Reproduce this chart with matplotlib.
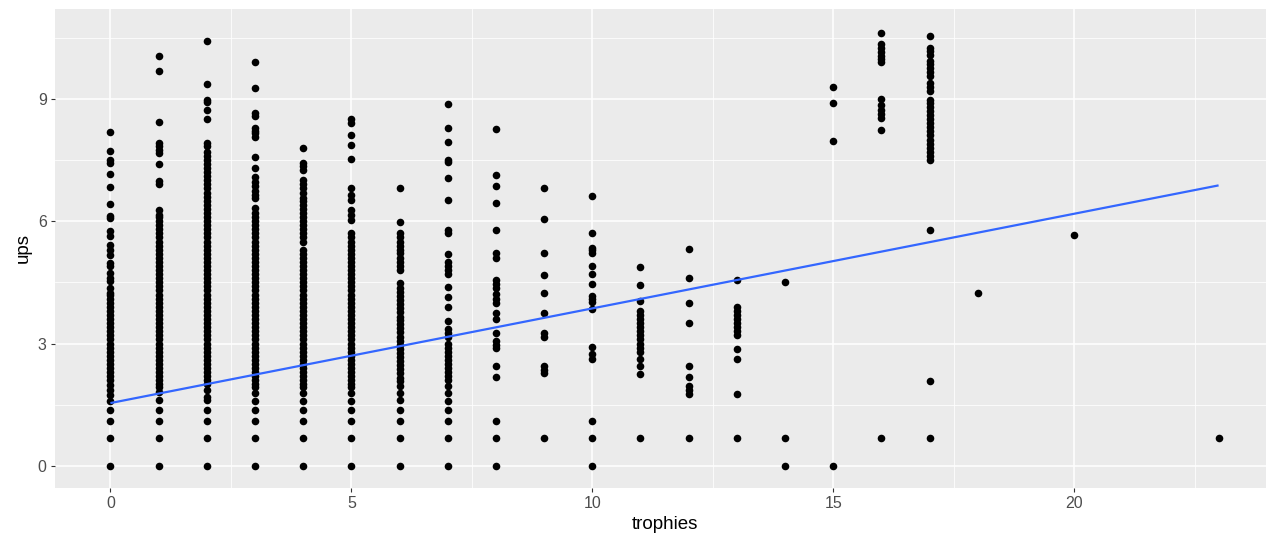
import matplotlib
matplotlib.use("Agg")
import matplotlib.pyplot as plt

# ---- data ----
trophies = [0, 1, 2, 3, 4, 5, 6, 7, 8, 9, 10, 11, 12, 13, 14, 15, 16, 17, 18, 20, 23]

ups_t0 = [0, 0.69, 1.10, 1.37, 1.58, 1.74, 1.86, 1.99, 2.10, 2.20, 2.30, 2.40, 2.50, 2.60,
          2.70, 2.80, 2.90, 3.00, 3.10, 3.20, 3.30, 3.40, 3.50, 3.60, 3.70, 3.80, 3.90, 4.00,
          4.10, 4.20, 4.24, 4.36, 4.52, 4.60, 4.73, 4.89, 4.97, 5.17, 5.30, 5.42, 5.64, 5.77,
          6.08, 6.13, 6.42, 6.83, 7.16, 7.43, 7.50, 7.73, 8.19]
ups_t1 = [0, 0.69, 1.10, 1.37, 1.62, 1.82, 1.94, 2.00, 2.10, 2.20, 2.30, 2.40, 2.50, 2.60,
          2.70, 2.80, 2.90, 3.00, 3.10, 3.20, 3.30, 3.40, 3.50, 3.60, 3.70, 3.80, 3.90, 4.00,
          4.10, 4.20, 4.30, 4.40, 4.50, 4.60, 4.70, 4.80, 4.90, 5.00, 5.10, 5.20, 5.30, 5.40,
          5.50, 5.60, 5.70, 5.80, 5.90, 6.00, 6.10, 6.15, 6.27, 6.91, 6.98, 7.39, 7.66, 7.75,
          7.84, 7.92, 8.44, 9.67, 10.05]
ups_t2 = [0, 0.69, 1.10, 1.37, 1.62, 1.70, 1.86, 2.00, 2.10, 2.20, 2.30, 2.40, 2.50, 2.60,
          2.70, 2.80, 2.90, 3.00, 3.10, 3.20, 3.30, 3.40, 3.50, 3.60, 3.70, 3.80, 3.90, 4.00,
          4.10, 4.20, 4.30, 4.40, 4.50, 4.60, 4.70, 4.80, 4.90, 5.00, 5.10, 5.20, 5.30, 5.40,
          5.50, 5.60, 5.70, 5.80, 5.90, 6.00, 6.10, 6.20, 6.30, 6.40, 6.50, 6.60, 6.70, 6.80,
          6.90, 7.00, 7.10, 7.20, 7.30, 7.40, 7.50, 7.60, 7.70, 7.83, 7.92, 8.50, 8.73, 8.92,
          8.97, 9.36, 10.42]
ups_t3 = [0, 0.69, 1.10, 1.37, 1.58, 1.78, 1.94, 2.00, 2.10, 2.20, 2.30, 2.40, 2.50, 2.60,
          2.70, 2.80, 2.90, 3.00, 3.10, 3.20, 3.30, 3.40, 3.50, 3.60, 3.70, 3.80, 3.90, 4.00,
          4.10, 4.20, 4.30, 4.40, 4.50, 4.60, 4.70, 4.80, 4.90, 5.00, 5.10, 5.20, 5.30, 5.40,
          5.50, 5.60, 5.70, 5.80, 5.90, 6.00, 6.10, 6.20, 6.32, 6.56, 6.65, 6.75, 6.85, 6.95,
          7.09, 7.30, 7.56, 8.07, 8.15, 8.22, 8.28, 8.58, 8.66, 9.26, 9.91]
ups_t4 = [0, 0.69, 1.10, 1.37, 1.58, 1.78, 1.94, 2.00, 2.10, 2.20, 2.30, 2.40, 2.50, 2.60,
          2.70, 2.80, 2.90, 3.00, 3.10, 3.20, 3.30, 3.40, 3.50, 3.60, 3.70, 3.80, 3.90, 4.00,
          4.10, 4.20, 4.30, 4.40, 4.50, 4.60, 4.70, 4.80, 4.90, 5.00, 5.10, 5.20, 5.29, 5.50,
          5.60, 5.70, 5.80, 5.90, 6.00, 6.10, 6.20, 6.30, 6.40, 6.50, 6.56, 6.68, 6.80, 6.90,
          7.01, 7.25, 7.35, 7.43, 7.80]
ups_t5 = [0, 0.69, 1.10, 1.37, 1.58, 1.78, 1.94, 2.00, 2.10, 2.20, 2.30, 2.40, 2.50, 2.60,
          2.70, 2.80, 2.90, 3.00, 3.10, 3.20, 3.30, 3.40, 3.50, 3.60, 3.70, 3.80, 3.90, 4.00,
          4.10, 4.20, 4.30, 4.40, 4.50, 4.60, 4.70, 4.80, 4.90, 5.00, 5.10, 5.20, 5.29, 5.38,
          5.50, 5.60, 5.70, 6.03, 6.15, 6.27, 6.52, 6.65, 6.81, 7.52, 7.87, 8.11, 8.40, 8.50]
ups_t6 = [0, 0.69, 1.10, 1.37, 1.62, 1.79, 1.95, 2.08, 2.16, 2.27, 2.37, 2.47, 2.57, 2.67,
          2.77, 2.87, 2.97, 3.07, 3.17, 3.27, 3.37, 3.47, 3.57, 3.66, 3.76, 3.86, 3.96, 4.06,
          4.16, 4.26, 4.36, 4.48, 4.80, 4.90, 5.00, 5.10, 5.21, 5.30, 5.40, 5.50, 5.60, 5.70,
          5.99, 6.81]
ups_t7 = [0, 0.69, 1.10, 1.36, 1.60, 1.79, 1.95, 2.10, 2.20, 2.30, 2.40, 2.50, 2.60, 2.70,
          2.80, 2.90, 3.00, 3.15, 3.25, 3.36, 3.56, 3.89, 4.13, 4.38, 4.70, 4.80, 4.90, 4.99,
          5.19, 5.72, 5.78, 6.51, 7.05, 7.45, 7.50, 7.94, 8.28, 8.86]
ups_t8 = [0, 0.69, 1.10, 2.18, 2.46, 2.90, 2.97, 3.05, 3.26, 3.59, 3.75, 4.00, 4.10, 4.22,
          4.35, 4.47, 4.56, 5.09, 5.23, 5.79, 6.44, 6.85, 7.12, 8.25]
ups_t9 = [0.69, 2.27, 2.35, 2.46, 3.17, 3.26, 3.75, 4.25, 4.67, 5.22, 6.06, 6.81]
ups_t10 = [0, 0.69, 1.10, 2.62, 2.75, 2.91, 3.85, 4.01, 4.10, 4.17, 4.47, 4.70, 4.91, 5.23,
           5.30, 5.35, 5.72, 6.61]
ups_t11 = [0.69, 2.26, 2.45, 2.62, 2.80, 2.90, 3.00, 3.10, 3.20, 3.30, 3.40, 3.50, 3.60,
           3.70, 3.80, 4.05, 4.43, 4.88]
ups_t12 = [0.69, 1.77, 1.87, 1.97, 2.18, 2.46, 3.51, 3.99, 4.60, 5.31]
ups_t13 = [0.69, 1.77, 2.62, 2.87, 3.20, 3.30, 3.40, 3.50, 3.60, 3.70, 3.80, 3.89, 4.56]
ups_t14 = [0, 0.69, 4.50]
ups_t15 = [0, 7.97, 8.89, 9.30]
ups_t16 = [0.69, 8.24, 8.53, 8.63, 8.73, 8.85, 9.00, 9.90, 9.98, 10.06, 10.15, 10.25, 10.34, 10.60]
ups_t17 = [0.69, 2.07, 5.79, 7.51, 7.60, 7.70, 7.80, 7.90, 8.00, 8.10, 8.20, 8.30, 8.40, 8.50,
           8.60, 8.70, 8.80, 8.90, 8.98, 9.18, 9.28, 9.39, 9.55, 9.65, 9.75, 9.85, 9.92, 10.08,
           10.16, 10.24, 10.53]
ups_t18 = [4.23]
ups_t20 = [5.65]
ups_t23 = [0.69]

ups_columns = [ups_t0, ups_t1, ups_t2, ups_t3, ups_t4, ups_t5, ups_t6, ups_t7, ups_t8, ups_t9,
               ups_t10, ups_t11, ups_t12, ups_t13, ups_t14, ups_t15, ups_t16, ups_t17, ups_t18,
               ups_t20, ups_t23]

# linear fit (geom_smooth, method = "lm")
fit_intercept = 1.54
fit_slope = 0.232
fit_range = [0, 23]

x_ticks = [0, 5, 10, 15, 20]
y_ticks = [0, 3, 6, 9]

# ---- plot ----
plt.rcParams['font.family'] = ['Liberation Sans', 'DejaVu Sans']
W, H = 1266, 543
fig = plt.figure(figsize=(W / 100, H / 100), dpi=100)
left, right, top, bottom = 55, 1274, 9, 487.5
ax = fig.add_axes([left / W, 1 - bottom / H, (right - left) / W, (bottom - top) / H])
ax.set_facecolor('#EBEBEB')
for s in ax.spines.values():
    s.set_visible(False)

xs, ys = [], []
for t, col in zip(trophies, ups_columns):
    xs.extend([t] * len(col))
    ys.extend(col)
ax.scatter(xs, ys, s=30, color='black', linewidths=0, zorder=3)

lx = fit_range
ly = [fit_intercept + fit_slope * v for v in lx]
ax.plot(lx, ly, color='#3366FF', linewidth=1.6, zorder=4, solid_capstyle='butt')

ax.set_xlim(-1.15, 24.15)
ax.set_ylim(-0.53, 11.2)
ax.set_xticks(x_ticks)
ax.set_yticks(y_ticks)
ax.set_xticks([2.5, 7.5, 12.5, 17.5, 22.5], minor=True)
ax.set_yticks([1.5, 4.5, 7.5, 10.5], minor=True)
ax.grid(which='major', color='white', linewidth=1.1)
ax.grid(which='minor', color='white', linewidth=0.55)
ax.set_axisbelow(True)
ax.tick_params(which='major', length=3, width=0.8, color='#333333', labelcolor='#4D4D4D',
               labelsize=11.5, pad=3)
ax.tick_params(which='minor', length=0)
ax.set_xlabel('trophies', fontsize=13.5, color='black', labelpad=4)
ax.set_ylabel('ups', fontsize=13.5, color='black', labelpad=4)

fig.savefig('out.png', dpi=100)
